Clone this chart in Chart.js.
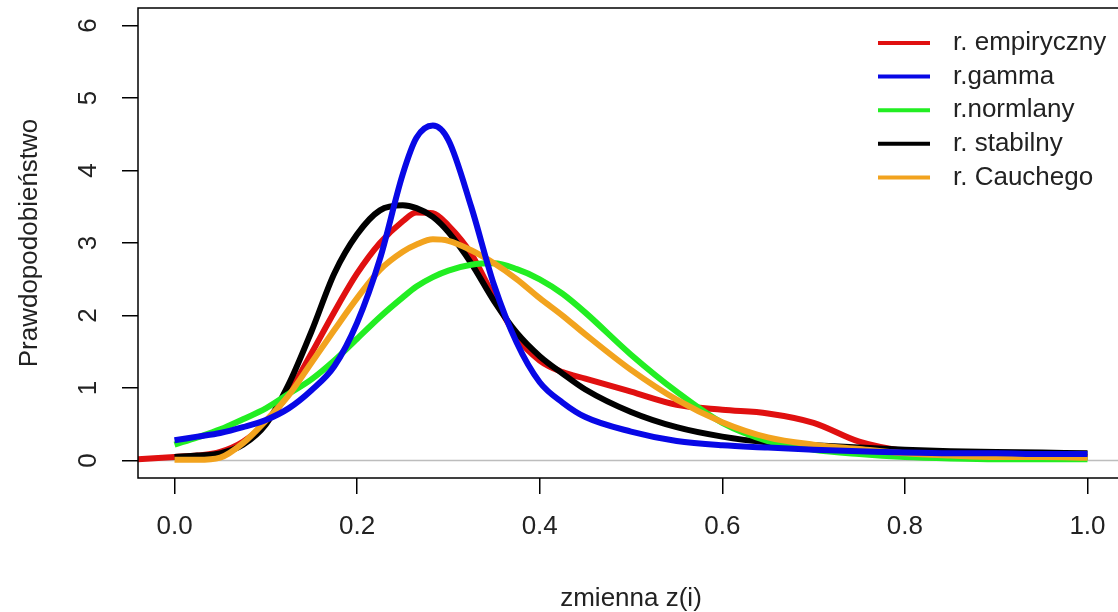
<!DOCTYPE html>
<html><head><meta charset="utf-8">
<script src="https://cdn.jsdelivr.net/npm/chart.js@4/dist/chart.umd.min.js"></script>
<style>html,body{margin:0;padding:0;background:#fff;overflow:hidden}#wrap{width:1130px;height:612px;position:relative}</style>
</head><body><div id="wrap"><canvas id="c"></canvas></div>
<script>
const xValues    = [-0.04, 0, 0.025, 0.05, 0.075, 0.1, 0.125, 0.15, 0.175, 0.2, 0.225, 0.25, 0.265, 0.283, 0.3, 0.325, 0.35, 0.375, 0.4, 0.425, 0.45, 0.5, 0.55, 0.6, 0.65, 0.7, 0.75, 0.8, 0.85, 0.9, 0.95, 1.0];
const empiryczny = [0.02, 0.05, 0.07, 0.12, 0.26, 0.52, 0.93, 1.48, 2.05, 2.58, 3.0, 3.3, 3.42, 3.41, 3.24, 2.85, 2.25, 1.7, 1.38, 1.22, 1.13, 0.95, 0.77, 0.7, 0.65, 0.52, 0.26, 0.13, 0.09, 0.07, 0.06, 0.05];
const gamma      = [null, 0.28, 0.33, 0.38, 0.46, 0.56, 0.72, 0.97, 1.3, 1.9, 2.78, 3.95, 4.45, 4.62, 4.42, 3.5, 2.42, 1.62, 1.08, 0.8, 0.6, 0.4, 0.27, 0.21, 0.18, 0.15, 0.13, 0.11, 0.1, 0.1, 0.09, 0.09];
const normalny   = [null, 0.22, 0.32, 0.43, 0.57, 0.72, 0.92, 1.12, 1.38, 1.68, 1.98, 2.25, 2.4, 2.53, 2.62, 2.7, 2.72, 2.64, 2.5, 2.3, 2.04, 1.46, 0.95, 0.52, 0.27, 0.15, 0.09, 0.05, 0.03, 0.02, 0.02, 0.02];
const stabilny   = [null, 0.05, 0.07, 0.1, 0.22, 0.5, 1.05, 1.78, 2.58, 3.12, 3.45, 3.52, 3.48, 3.36, 3.15, 2.72, 2.2, 1.76, 1.44, 1.2, 0.98, 0.67, 0.46, 0.33, 0.25, 0.21, 0.18, 0.15, 0.13, 0.12, 0.11, 0.1];
const cauchy     = [null, 0.01, 0.01, 0.04, 0.24, 0.55, 0.9, 1.35, 1.8, 2.24, 2.63, 2.88, 2.98, 3.05, 3.03, 2.9, 2.72, 2.5, 2.24, 2.0, 1.74, 1.25, 0.84, 0.53, 0.32, 0.22, 0.16, 0.1, 0.07, 0.05, 0.05, 0.04];

const seriesLabels = ['r. empiryczny', 'r.gamma', 'r.normlany', 'r. stabilny', 'r. Cauchego'];
const seriesColors = ['#e01010', '#0808e6', '#22ee22', '#000000', '#f2a31e'];
const seriesOrder  = [5, 1, 3, 4, 2];
const xTickValues = [0, 0.2, 0.4, 0.6, 0.8, 1.0];
const xTickLabels = ['0.0', '0.2', '0.4', '0.6', '0.8', '1.0'];
const yTickValues = [0, 1, 2, 3, 4, 5, 6];
const yTickLabels = ['0', '1', '2', '3', '4', '5', '6'];
const xTitle = 'zmienna z(i)';
const yTitle = 'Prawdopodobieństwo';

const FONT = '"Liberation Sans", Arial, sans-serif';
const TXT = '#222';
const seriesValues = [empiryczny, gamma, normalny, stabilny, cauchy];

const datasets = seriesValues.map((vals, i) => ({
  label: seriesLabels[i],
  data: xValues.map((x, j) => ({x: x, y: vals[j]})),
  borderColor: seriesColors[i],
  backgroundColor: seriesColors[i],
  borderWidth: 6,
  pointRadius: 0,
  fill: false,
  cubicInterpolationMode: 'monotone',
  spanGaps: false,
  order: seriesOrder[i]
}));

const rPlot = {
  id: 'rPlot',
  beforeDatasetsDraw(chart) {
    const {ctx, chartArea: a, scales: {y}} = chart;
    const y0 = y.getPixelForValue(0);
    ctx.save();
    ctx.strokeStyle = '#bdbdbd';
    ctx.lineWidth = 1.5;
    ctx.beginPath(); ctx.moveTo(a.left, y0); ctx.lineTo(a.right, y0); ctx.stroke();
    ctx.restore();
  },
  afterDraw(chart) {
    const {ctx, chartArea: a, scales: {y}} = chart;
    ctx.save();
    ctx.strokeStyle = '#000';
    ctx.lineWidth = 1.5;
    ctx.strokeRect(a.left, a.top, a.right - a.left, a.bottom - a.top);
    ctx.fillStyle = TXT;
    ctx.font = '26px ' + FONT;
    ctx.textAlign = 'center';
    ctx.textBaseline = 'middle';
    yTickValues.forEach((v, i) => {
      const py = y.getPixelForValue(v);
      ctx.save();
      ctx.translate(89, py);
      ctx.rotate(-Math.PI / 2);
      ctx.fillText(yTickLabels[i], 0, 0);
      ctx.restore();
    });
    ctx.textAlign = 'left';
    chart.data.datasets.forEach((ds, i) => {
      const ry = 43 + i * 33.6;
      ctx.strokeStyle = ds.borderColor;
      ctx.lineWidth = 4;
      ctx.beginPath(); ctx.moveTo(878, ry); ctx.lineTo(930, ry); ctx.stroke();
      ctx.fillStyle = TXT;
      ctx.fillText(ds.label, 953, ry);
    });
    ctx.restore();
  }
};

new Chart(document.getElementById('c'), {
  type: 'line',
  data: { datasets },
  options: {
    responsive: true,
    maintainAspectRatio: false,
    animation: false,
    devicePixelRatio: 1,
    layout: { padding: { top: 8, right: 6, left: 0, bottom: 0 } },
    plugins: { legend: { display: false }, tooltip: { enabled: false } },
    scales: {
      x: {
        type: 'linear', min: -0.04, max: 1.04,
        afterBuildTicks: s => { s.ticks = xTickValues.map(v => ({value: v})); },
        afterFit: s => { s.height = 134; },
        ticks: {
          autoSkip: false, maxRotation: 0, padding: 17, color: TXT,
          font: { family: FONT, size: 26 },
          callback: v => xTickLabels[xTickValues.indexOf(v)]
        },
        grid: { drawOnChartArea: false, drawTicks: true, tickLength: 16, color: '#000', lineWidth: 1.5 },
        border: { display: false },
        title: { display: true, text: xTitle, color: TXT, font: { family: FONT, size: 26, lineHeight: 1 }, padding: { top: 0, bottom: 0 } }
      },
      y: {
        type: 'linear', min: -0.24, max: 6.24,
        afterBuildTicks: s => { s.ticks = yTickValues.map(v => ({value: v})); },
        afterFit: s => { s.width = 138; },
        ticks: { display: false },
        grid: { drawOnChartArea: false, drawTicks: true, tickLength: 16, color: '#000', lineWidth: 1.5 },
        border: { display: false },
        title: { display: true, text: yTitle, color: TXT, font: { family: FONT, size: 26, lineHeight: 1 }, padding: { top: 17, bottom: 0 } }
      }
    }
  },
  plugins: [rPlot]
});
</script>
</body></html>
